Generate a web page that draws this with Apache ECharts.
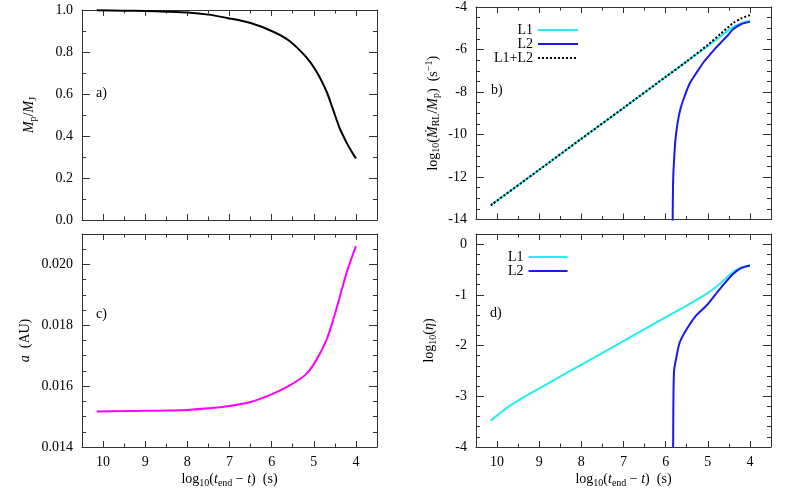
<!DOCTYPE html>
<html>
<head>
<meta charset="utf-8">
<script src="https://cdn.jsdelivr.net/npm/echarts@6/dist/echarts.min.js"></script>
<style>
  html, body { margin: 0; padding: 0; background: #fff; }
  #main { width: 788px; height: 493px; }
</style>
</head>
<body>
<div id="main"></div>
<script>
// tick positions (time axis runs from 10 down to 4)
var timeTicks = [4, 5, 6, 7, 8, 9, 10];
var timeMinor = [4.5, 5.5, 6.5, 7.5, 8.5, 9.5];
var massTicks = [0, 0.2, 0.4, 0.6, 0.8, 1.0];
var massMinor = [0.1, 0.3, 0.5, 0.7, 0.9];
var rateTicks = [-14, -12, -10, -8, -6, -4];
var rateMinor = [-13.5, -13, -12.5, -11.5, -11, -10.5, -9.5, -9, -8.5, -7.5, -7, -6.5, -5.5, -5, -4.5];
var sepTicks = [0.014, 0.016, 0.018, 0.020];
var sepMinor = [0.0145, 0.015, 0.0155, 0.0165, 0.017, 0.0175, 0.0185, 0.019, 0.0195, 0.0205];
var etaTicks = [-4, -3, -2, -1, 0];
var etaMinor = [-3.8, -3.6, -3.4, -3.2, -2.8, -2.6, -2.4, -2.2, -1.8, -1.6, -1.4, -1.2, -0.8, -0.6, -0.4, -0.2];

// a) and c) : planet mass and separation
var tGrid = [10.15, 9.5, 9.0, 8.5, 8.0, 7.5, 7.0, 6.5, 6.0, 5.6, 5.2, 4.95, 4.7, 4.55, 4.4, 4.3, 4.2, 4.1, 4.0];
var planetMass = [0.999, 0.997, 0.995, 0.992, 0.988, 0.978, 0.960, 0.938, 0.900, 0.856, 0.780, 0.712, 0.613, 0.530, 0.445, 0.400, 0.360, 0.325, 0.293];
var semiMajor = [0.01517, 0.01518, 0.01519, 0.01520, 0.01522, 0.01527, 0.01535, 0.01548, 0.01573, 0.01600, 0.01637, 0.01683, 0.01751, 0.01813, 0.01885, 0.01935, 0.01982, 0.02022, 0.02060];

// b) mass loss rate through L1, L2 and both
var tRate1 = [10.15, 9.0, 8.0, 7.0, 6.0, 5.5, 5.0, 4.7, 4.4, 4.2, 4.0];
var rateL1 = [-13.33, -11.66, -10.20, -8.75, -7.29, -6.56, -5.84, -5.39, -4.95, -4.76, -4.65];
var tRate2 = [5.835, 5.83, 5.82, 5.80, 5.77, 5.72, 5.65, 5.55, 5.43, 5.27, 5.1, 4.95, 4.8, 4.64, 4.5, 4.4, 4.2, 4.0];
var rateL2 = [-14.5, -13.2, -12.0, -11.2, -10.3, -9.5, -8.8, -8.2, -7.6, -7.1, -6.6, -6.25, -5.9, -5.57, -5.28, -5.05, -4.8, -4.70];
var tRateSum = [10.15, 9.0, 8.0, 7.0, 6.0, 5.5, 5.0, 4.7, 4.4, 4.2, 4.0];
var rateSum = [-13.33, -11.66, -10.20, -8.75, -7.29, -6.56, -5.78, -5.27, -4.76, -4.53, -4.38];

// d) efficiency eta
var tEta1 = [10.15, 9.7, 9.05, 8.33, 7.7, 7.0, 6.3, 5.5, 5.03, 4.71, 4.4, 4.2, 4.0];
var etaL1 = [-3.48, -3.19, -2.87, -2.53, -2.24, -1.91, -1.58, -1.21, -0.98, -0.78, -0.55, -0.46, -0.42];
var tEta2 = [5.825, 5.82, 5.815, 5.81, 5.80, 5.78, 5.75, 5.67, 5.51, 5.27, 5.03, 4.71, 4.4, 4.2, 4.0];
var etaL2 = [-4.5, -3.6, -3.0, -2.73, -2.5, -2.38, -2.25, -1.95, -1.69, -1.40, -1.21, -0.88, -0.59, -0.47, -0.42];

function zip(xs, ys) {
  return xs.map(function (x, i) { return [x, ys[i]]; });
}

var font = 'Liberation Serif';
var frame = '#333';
var rich = {
  r: { fontFamily: font, fontSize: 14, color: '#000' },
  i: { fontFamily: font, fontSize: 14, fontStyle: 'italic', color: '#000' },
  sub: { fontFamily: font, fontSize: 10, color: '#000', padding: [7, 0, 0, 0] },
  sup: { fontFamily: font, fontSize: 10, color: '#000', padding: [0, 0, 8, 0] }
};
var timeName = '{r|log}{sub|10}{r|(}{i|t}{sub|end}{r| − }{i|t}{r|)  (s)}';

var xAxes = [], yAxes = [];

function addX(grid, showLabels) {
  var base = { type: 'value', gridIndex: grid, min: 3.5, max: 10.5, inverse: true, splitLine: { show: false } };
  xAxes.push(Object.assign({}, base, {
    position: 'bottom',
    axisLine: { show: true, onZero: false, lineStyle: { color: frame, width: 1 } },
    axisTick: { inside: true, length: 6, customValues: timeTicks, lineStyle: { color: frame } },
    axisLabel: { show: showLabels, customValues: timeTicks, margin: 8, fontFamily: font, fontSize: 14, color: '#000' },
    name: showLabels ? timeName : '',
    nameLocation: 'middle', nameGap: 24,
    nameTextStyle: { rich: rich }
  }));
  xAxes.push(Object.assign({}, base, {
    position: 'bottom',
    axisLine: { show: false, onZero: false },
    axisTick: { inside: true, length: 3.5, customValues: timeMinor, lineStyle: { color: frame } },
    axisLabel: { show: false }
  }));
  xAxes.push(Object.assign({}, base, {
    position: 'top',
    axisLine: { show: true, onZero: false, lineStyle: { color: frame, width: 1 } },
    axisTick: { inside: true, length: 6, customValues: timeTicks, lineStyle: { color: frame } },
    axisLabel: { show: false }
  }));
  xAxes.push(Object.assign({}, base, {
    position: 'top',
    axisLine: { show: false, onZero: false },
    axisTick: { inside: true, length: 3.5, customValues: timeMinor, lineStyle: { color: frame } },
    axisLabel: { show: false }
  }));
}

function addY(grid, min, max, major, minor, fmt, name, gap) {
  var base = { type: 'value', gridIndex: grid, min: min, max: max, splitLine: { show: false } };
  yAxes.push(Object.assign({}, base, {
    position: 'left',
    axisLine: { show: true, onZero: false, lineStyle: { color: frame, width: 1 } },
    axisTick: { inside: true, length: 8, customValues: major, lineStyle: { color: frame } },
    axisLabel: { customValues: major, formatter: fmt, margin: 9, fontFamily: font, fontSize: 14, color: '#000' },
    name: name, nameLocation: 'middle', nameGap: gap,
    nameTextStyle: { rich: rich }
  }));
  yAxes.push(Object.assign({}, base, {
    position: 'left',
    axisLine: { show: false, onZero: false },
    axisTick: { inside: true, length: 4, customValues: minor, lineStyle: { color: frame } },
    axisLabel: { show: false }
  }));
  yAxes.push(Object.assign({}, base, {
    position: 'right',
    axisLine: { show: true, onZero: false, lineStyle: { color: frame, width: 1 } },
    axisTick: { inside: true, length: 8, customValues: major, lineStyle: { color: frame } },
    axisLabel: { show: false }
  }));
  yAxes.push(Object.assign({}, base, {
    position: 'right',
    axisLine: { show: false, onZero: false },
    axisTick: { inside: true, length: 4, customValues: minor, lineStyle: { color: frame } },
    axisLabel: { show: false }
  }));
}

addX(0, false); addX(1, false); addX(2, true); addX(3, true);
addY(0, 0, 1, massTicks, massMinor, function (v) { return v.toFixed(1); },
  '{i|M}{sub|p}{r|/}{i|M}{sub|J}', 44);
addY(1, -14, -4, rateTicks, rateMinor, function (v) { return String(v); },
  '{r|log}{sub|10}{r|(}{i|Ṁ}{sub|RL}{r|/}{i|M}{sub|p}{r|)  (s}{sup|−1}{r|)}', 34);
addY(2, 0.014, 0.021, sepTicks, sepMinor, function (v) { return v.toFixed(3); },
  '{i|a}{r|  (AU)}', 50);
addY(3, -4, 0.2, etaTicks, etaMinor, function (v) { return String(v); },
  '{r|log}{sub|10}{r|(}{i|η}{r|)}', 38);

function curve(name, grid, data, color, dashed) {
  return {
    name: name, type: 'line', xAxisIndex: grid * 4, yAxisIndex: grid * 4,
    data: data, symbol: 'none', smooth: 0.25, animation: false,
    lineStyle: { color: color, width: 2, type: dashed ? [2, 2] : 'solid' },
    itemStyle: { color: color }
  };
}

var legendText = { fontFamily: font, fontSize: 14, color: '#000' };

var chart = echarts.init(document.getElementById('main'));
chart.setOption({
  backgroundColor: '#fff',
  animation: false,
  grid: [
    { left: 82, top: 10, width: 295, height: 210 },
    { left: 476, top: 7, width: 295, height: 212.5 },
    { left: 82, top: 234, width: 295, height: 213 },
    { left: 476, top: 234, width: 295, height: 213 }
  ],
  xAxis: xAxes,
  yAxis: yAxes,
  legend: [
    {
      data: ['L1', 'L2', 'L1+L2'], orient: 'vertical', align: 'right',
      left: 494, top: 23, itemWidth: 40, itemHeight: 14, itemGap: 0, padding: 0,
      selectedMode: false, itemStyle: { opacity: 0 },
      textStyle: legendText
    },
    {
      data: ['L1', 'L2'], orient: 'vertical', align: 'right',
      left: 508, top: 250, itemWidth: 39, itemHeight: 14, itemGap: 0, padding: 0,
      selectedMode: false, itemStyle: { opacity: 0 },
      textStyle: legendText
    }
  ],
  graphic: [
    { type: 'text', left: 96, top: 86, style: { text: 'a)', font: '14px "Liberation Serif"', fill: '#000' } },
    { type: 'text', left: 491, top: 83, style: { text: 'b)', font: '14px "Liberation Serif"', fill: '#000' } },
    { type: 'text', left: 96, top: 307, style: { text: 'c)', font: '14px "Liberation Serif"', fill: '#000' } },
    { type: 'text', left: 490, top: 306, style: { text: 'd)', font: '14px "Liberation Serif"', fill: '#000' } }
  ],
  series: [
    curve('Mp', 0, zip(tGrid, planetMass), '#000', false),
    curve('L1', 1, zip(tRate1, rateL1), '#22eeee', false),
    curve('L2', 1, zip(tRate2, rateL2), '#1a1aee', false),
    curve('L1+L2', 1, zip(tRateSum, rateSum), '#000', true),
    curve('a', 2, zip(tGrid, semiMajor), '#ff00ff', false),
    curve('L1', 3, zip(tEta1, etaL1), '#22eeee', false),
    curve('L2', 3, zip(tEta2, etaL2), '#1a1aee', false)
  ]
});
</script>
</body>
</html>
